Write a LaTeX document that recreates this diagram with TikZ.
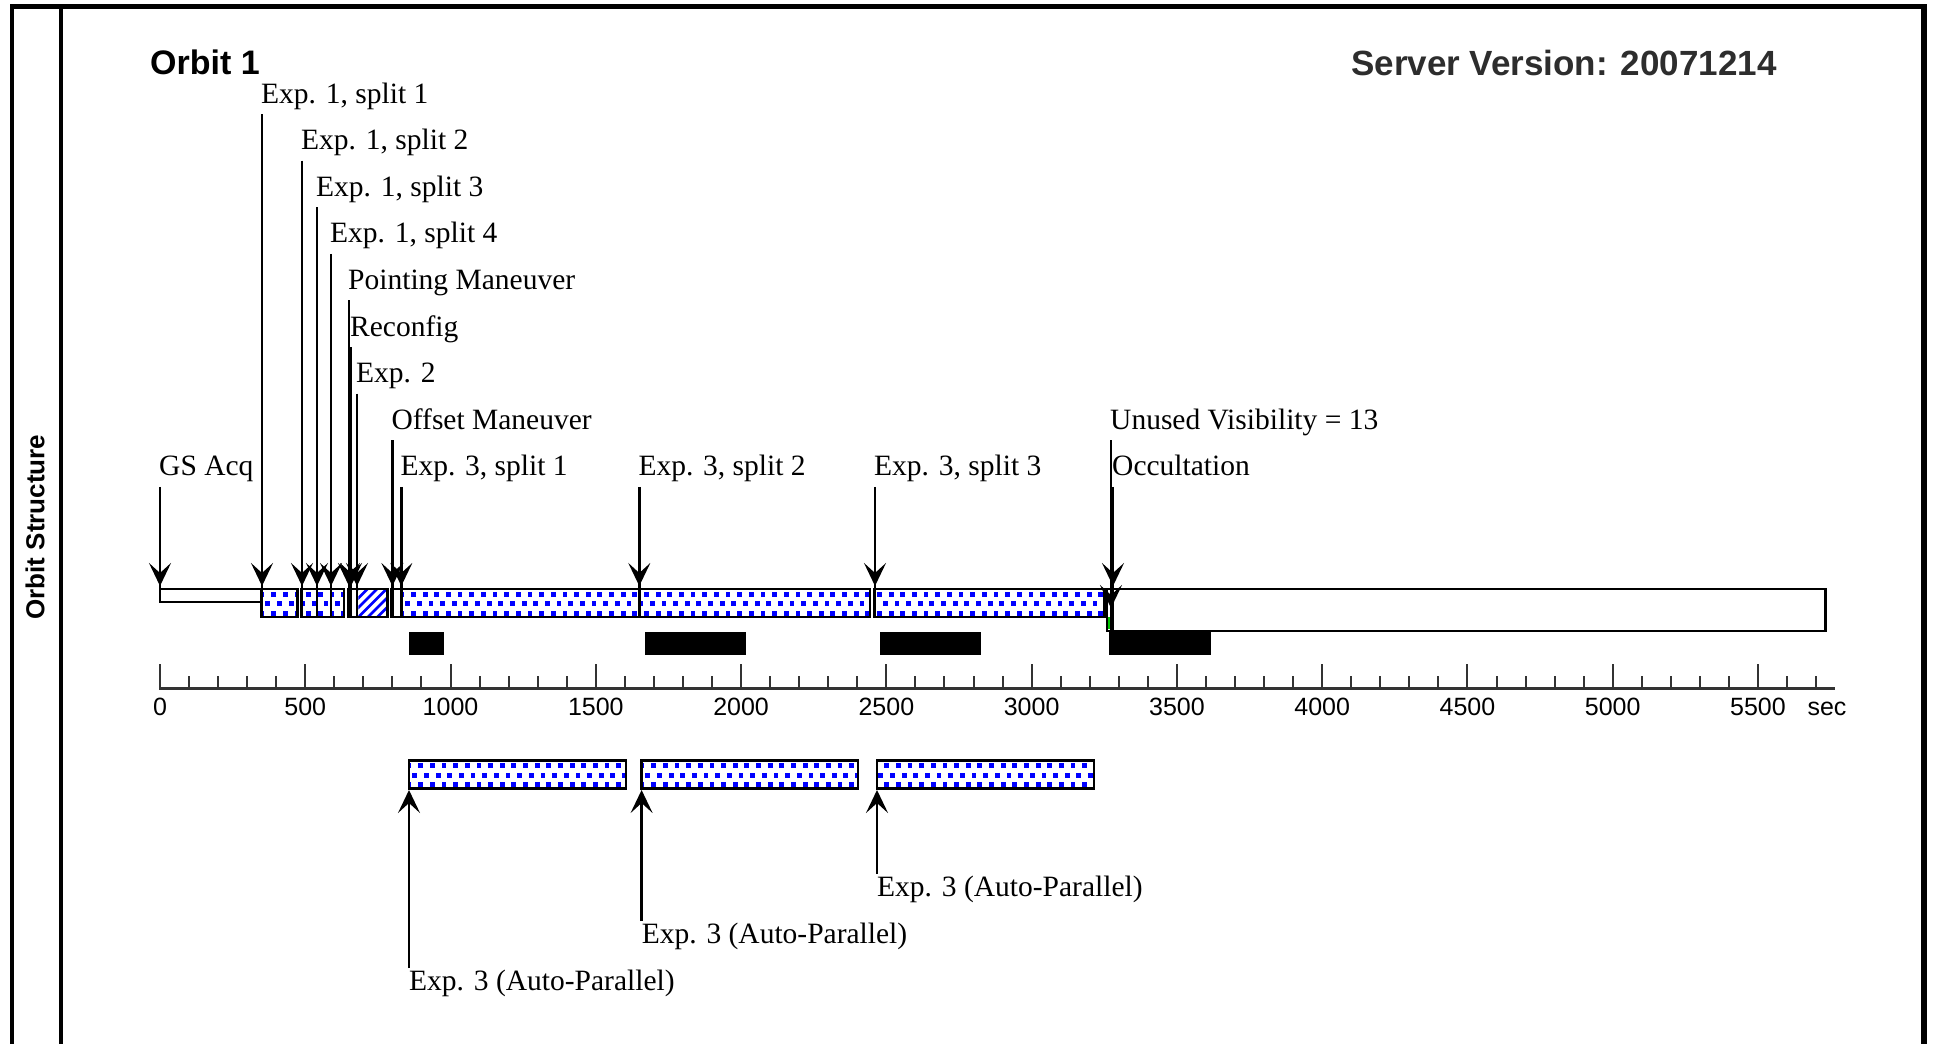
\documentclass[tikz,border=0pt]{standalone}
\usepackage{fontspec}
\setmainfont{Liberation Serif}
\newfontfamily\hsans{Liberation Sans}
\usetikzlibrary{arrows.meta}
\definecolor{dotblue}{RGB}{0,0,255}
\definecolor{axisgray}{RGB}{51,51,51}
\definecolor{vergray}{RGB}{45,45,45}
\definecolor{occgreen}{RGB}{0,200,0}
\begin{document}
\begin{tikzpicture}[x=1pt,y=-1pt,
  lbl/.style={font=\fontsize{29.5}{34}\selectfont, inner sep=0pt, anchor=base west},
  evline/.style={line width=2.4pt, draw=black},
  evtip/.style={line width=2.4pt, draw=black, -{Stealth[length=23pt,width=22pt,inset=10pt]}},
  barbox/.style={draw=black, line width=2.8pt},
  blackbar/.style={fill=black},
  tickmark/.style={line width=2pt, draw=axisgray},
  ticklbl/.style={font=\hsans\fontsize{25}{30}\selectfont, inner sep=0pt, anchor=base},
  titlefont/.style={font=\hsans\bfseries\fontsize{34}{40}\selectfont, inner sep=0pt, anchor=base west},
  dot/.style={fill=dotblue}]
\useasboundingbox (0,0) rectangle (1941,1044);
\fill[white] (0,0) rectangle (1941,1044);

% ---- frame
\draw[line width=5pt] (10,6.5) -- (1927,6.5);
\draw[line width=4pt] (12,4) -- (12,1044);
\draw[line width=4.5pt] (61,4) -- (61,1044);
\draw[line width=6pt] (1924,4) -- (1924,1044);

% ---- titles
\node[titlefont] (orbit) at (150,74) {Orbit 1};
\node[titlefont, text=vergray, font=\hsans\bfseries\fontsize{35}{40}\selectfont] (server) at (1351,75) {Server Version: 20071214};
\node[rotate=90, inner sep=0pt, font=\hsans\bfseries\fontsize{26}{30}\selectfont] (ostruct) at (35,527) {Orbit Structure};

% ---- main strip: white fills
\fill[white] (160,589) rectangle (261.7,602);
\fill[white] (1107,589) rectangle (1825.6,631);

% ---- dotted pattern (main strip)
\begin{scope}
  \clip (261.7,589) rectangle (297.3,617)
        (301.7,589) rectangle (344,617)
        (402,589) rectangle (870,617)
        (874.5,589) rectangle (1104.5,617);
  \foreach \i in {0,...,73} {
    \pgfmathsetmacro{\xx}{262+11.65*\i}
    \fill[dot] (\xx-2.4,591.5) rectangle (\xx+2.4,596.5);
    \fill[dot] (\xx+3.4,601.2) rectangle (\xx+8.2,606.2);
    \fill[dot] (\xx-2.4,610.5) rectangle (\xx+2.4,615.5);
  }
\end{scope}

% ---- hatched (Exp. 2)
\begin{scope}
  \clip (358.3,589) rectangle (387.3,617);
  \foreach \k in {0,...,9} {
    \draw[dotblue, line width=2.6pt] (330+9.5*\k,617) -- ++(28,-28);
  }
\end{scope}

% ---- outlines of main strip
\draw[barbox] (160,589) rectangle (261.7,602);
\draw[barbox] (261.7,589) rectangle (297.3,617);
\draw[barbox] (301.7,589) rectangle (344,617);
\draw[barbox] (348.3,589) rectangle (387.3,617);
\draw[barbox] (391.7,589) rectangle (870,617);
\draw[barbox] (874.5,589) rectangle (1104.5,617);
\draw[barbox] (1107,589) rectangle (1825.6,631);

% ---- black bars
\fill[blackbar] (409.3,632) rectangle (444,655);
\fill[blackbar] (644.6,632) rectangle (746,655);
\fill[blackbar] (880,632) rectangle (981,655);
\fill[blackbar] (1109,632) rectangle (1210.7,655);

% ---- green tick
\draw[occgreen, line width=2.5pt] (1109.5,617) -- (1109.5,629);

% ---- axis
\draw[axisgray, line width=3pt] (159,688) -- (1835,688);
\foreach \t in {0,100,...,5700} {
  \draw[tickmark] (160+0.29055*\t,676) -- (160+0.29055*\t,688);
}
\foreach \t in {0,500,...,5500} {
  \draw[tickmark] (160+0.29055*\t,664) -- (160+0.29055*\t,688);
  \node[ticklbl] (tl\t) at (160+0.29055*\t,715) {\t};
}
\node[ticklbl] (sec) at (1827,715) {sec};

% ---- events (upper)
\foreach \nm/\x/\r/\ty/\by/\txt in {
  gs/160/9/586/602/{GS Acq},
  s11/262/1/586/617/{Exp. 1, split 1},
  s12/302/2/586/617/{Exp. 1, split 2},
  s13/317/3/586/617/{Exp. 1, split 3},
  s14/331/4/586/617/{Exp. 1, split 4},
  pm/349/5/586/617/{Pointing Maneuver},
  rc/351/6/586/617/{Reconfig},
  e2/357/7/586/617/{Exp. 2},
  om/392.4/8/586/617/{Offset Maneuver},
  s31/401.3/9/586/617/{Exp. 3, split 1},
  s32/639.3/9/586/617/{Exp. 3, split 2},
  s33/875/9/586/617/{Exp. 3, split 3},
  uv/1111/8/608/631/{Unused Visibility = 13},
  oc/1113/9/586/631/{Occultation}} {
  \pgfmathsetmacro{\yb}{103+(\r-1)*46.6}
  \node[lbl] (L\nm) at (\x-1,\yb) {\txt};
  \coordinate (T\nm) at (\x,\ty);
  \coordinate (B\nm) at (\x,\by);
  \draw[evline] (L\nm.base west) ++(1,11) -- (B\nm);
  \draw[evtip] (T\nm) ++(0,-30) -- (T\nm);
}

% ---- auto-parallel boxes (lower)
\fill[white] (409,760.7) rectangle (626,788.3);
\fill[white] (641.6,760.7) rectangle (858,788.3);
\fill[white] (877,760.7) rectangle (1094,788.3);
\begin{scope}
  \clip (409,760.7) rectangle (626,788.3)
        (641.6,760.7) rectangle (858,788.3)
        (877,760.7) rectangle (1094,788.3);
  \foreach \i in {0,...,60} {
    \pgfmathsetmacro{\xx}{409+11.65*\i}
    \fill[dot] (\xx-2.4,763) rectangle (\xx+2.4,768);
    \fill[dot] (\xx+3.4,772.5) rectangle (\xx+8.2,777.5);
    \fill[dot] (\xx-2.4,782) rectangle (\xx+2.4,787);
  }
\end{scope}
\draw[barbox] (409,760.7) rectangle (626,788.3);
\draw[barbox] (641.6,760.7) rectangle (858,788.3);
\draw[barbox] (877,760.7) rectangle (1094,788.3);

\foreach \nm/\x/\yb in {ap1/409/990, ap2/641.6/943, ap3/877/896} {
  \node[lbl] (A\nm) at (\x,\yb) {Exp. 3 (Auto-Parallel)};
  \coordinate (TA\nm) at (\x,790);
  \draw[evtip] (A\nm.base west) ++(0,-22) -- (TA\nm);
}
\end{tikzpicture}
\end{document}
